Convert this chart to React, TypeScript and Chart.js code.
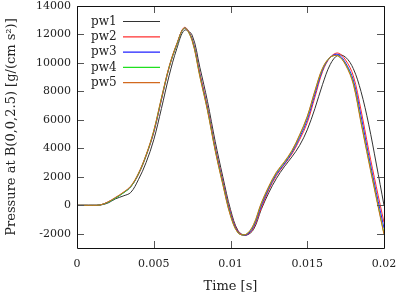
import React, { useEffect, useRef } from "react";
import { Chart, registerables } from "chart.js";

Chart.register(...registerables);

const times: number[] = [
  0, 0.0005, 0.001, 0.0015, 0.002, 0.0025, 0.003, 0.0035, 0.004, 0.0045,
  0.005, 0.0055, 0.006, 0.0065, 0.007, 0.0075, 0.008, 0.0085, 0.009, 0.0095,
  0.01, 0.0105, 0.011, 0.0115, 0.012, 0.0125, 0.013, 0.0135, 0.014, 0.0145,
  0.015, 0.0155, 0.016, 0.0165, 0.017, 0.0175, 0.018, 0.0185, 0.019, 0.0195, 0.02,
];

const pw1: number[] = [
  0, 0, 0, 20, 150, 450, 650, 900, 1800, 3000,
  4600, 6800, 9100, 11000, 12300, 11950, 9700, 7300, 4500, 2000,
  -300, -1800, -2100, -1700, -300, 900, 1900, 2700, 3400, 4200,
  5300, 6800, 8500, 9900, 10550, 10400, 9600, 8000, 5700, 2900, 0,
];
const pw2: number[] = [
  0, 0, 0, 20, 220, 520, 880, 1300, 2150, 3450,
  5100, 7400, 9650, 11300, 12500, 11700, 9300, 6900, 4100, 1700,
  -500, -1850, -2100, -1600, -200, 1100, 2100, 2850, 3600, 4600,
  5800, 7600, 9400, 10400, 10700, 10200, 9100, 6700, 3900, 1300, -1200,
];
const pw3: number[] = [
  0, 0, 0, 20, 210, 510, 860, 1300, 2200, 3500,
  5150, 7450, 9700, 11300, 12450, 11650, 9200, 6800, 4000, 1600,
  -600, -1900, -2100, -1500, -50, 1200, 2200, 2900, 3700, 4750,
  6000, 7800, 9500, 10400, 10600, 10000, 8800, 6300, 3500, 900, -1600,
];
const pw4: number[] = [
  0, 0, 0, 20, 200, 500, 850, 1300, 2200, 3500,
  5200, 7500, 9700, 11300, 12450, 11600, 9100, 6700, 3900, 1500,
  -700, -1950, -2050, -1400, 100, 1300, 2300, 3000, 3800, 4900,
  6200, 8000, 9600, 10400, 10500, 9900, 8600, 5900, 3200, 600, -2000,
];
const pw5: number[] = [
  0, 0, 0, 20, 230, 550, 900, 1350, 2250, 3550,
  5250, 7550, 9750, 11350, 12450, 11550, 9050, 6650, 3850, 1450,
  -750, -1950, -2050, -1350, 150, 1350, 2350, 3050, 3850, 4950,
  6250, 8050, 9650, 10400, 10500, 9850, 8500, 5800, 3100, 500, -2050,
];

const seriesNames: string[] = ["pw1", "pw2", "pw3", "pw4", "pw5"];
const seriesColors: string[] = ["#333333", "#ff3030", "#2020ff", "#20e020", "#d2691e"];
const xTicks: number[] = [0, 0.005, 0.01, 0.015, 0.02];
const xTickLabels: string[] = ["0", "0.005", "0.01", "0.015", "0.02"];
const yTicks: number[] = [-2000, 0, 2000, 4000, 6000, 8000, 10000, 12000, 14000];

const FONT = "'DejaVu Serif', serif";

const framePlugin = {
  id: "frame",
  afterDatasetsDraw(chart: any) {
    const { ctx, chartArea } = chart;
    const { left, right, top, bottom } = chartArea;
    const xs = chart.scales.x;
    const ys = chart.scales.y;
    ctx.save();
    ctx.fillStyle = "#555555";
    const tl = 7;
    xTicks.forEach((t) => {
      const px = Math.round(xs.getPixelForValue(t));
      ctx.fillRect(px, bottom - tl, 1, tl);
      ctx.fillRect(px, top, 1, tl);
    });
    yTicks.forEach((v) => {
      const py = Math.round(ys.getPixelForValue(v));
      ctx.fillRect(left, py, tl, 1);
      ctx.fillRect(right - tl, py, tl, 1);
    });
    ctx.strokeStyle = "#111111";
    ctx.lineWidth = 1;
    ctx.beginPath();
    ctx.rect(Math.round(left) + 0.5, Math.round(top) + 0.5, Math.round(right - left), Math.round(bottom - top));
    ctx.stroke();
    // legend
    ctx.font = "12px " + FONT;
    ctx.textBaseline = "middle";
    ctx.textAlign = "left";
    for (let i = 0; i < seriesNames.length; i++) {
      const y = 21.5 + 15.3 * i;
      ctx.fillStyle = "#222222";
      ctx.fillText(seriesNames[i], left + 14, y);
      ctx.beginPath();
      ctx.strokeStyle = seriesColors[i];
      ctx.lineWidth = 1.2;
      ctx.moveTo(left + 46, y);
      ctx.lineTo(left + 83, y);
      ctx.stroke();
    }
    ctx.restore();
  },
};

export default function App() {
  const ref = useRef<HTMLCanvasElement | null>(null);
  useEffect(() => {
    document.body.style.margin = "0";
    const canvas = ref.current;
    if (!canvas) return;
    const all = [pw1, pw2, pw3, pw4, pw5];
    const chart = new Chart(canvas, {
      type: "line",
      data: {
        datasets: all.map((vals, i) => ({
          label: seriesNames[i],
          data: times.map((t, j) => ({ x: t, y: vals[j] })),
          borderColor: seriesColors[i],
          backgroundColor: seriesColors[i],
          borderWidth: 1,
          pointRadius: 0,
          tension: 0.35,
          fill: false,
          order: 4 - i,
        })),
      },
      options: {
        animation: false,
        responsive: false,
        devicePixelRatio: 1,
        layout: { padding: { top: 6, right: 15, left: 0, bottom: 0 } },
        plugins: { legend: { display: false }, tooltip: { enabled: false } },
        scales: {
          x: {
            type: "linear",
            min: 0,
            max: 0.02,
            grid: { display: false, drawTicks: false },
            border: { display: false },
            afterBuildTicks: (s: any) => {
              s.ticks = xTicks.map((v) => ({ value: v }));
            },
            afterFit: (s: any) => {
              s.height = 49;
              s.paddingLeft = 0;
              s.paddingRight = 0;
              s.paddingTop = 0;
              s.paddingBottom = 0;
            },
            ticks: {
              padding: 10,
              color: "#222222",
              font: { family: FONT, size: 11 },
              maxRotation: 0,
              callback: (v: any, i: number) => xTickLabels[i] ?? String(v),
            },
            title: {
              display: true,
              text: "Time [s]",
              color: "#222222",
              font: { family: FONT, size: 13 },
              padding: { top: 0, bottom: 3 },
            },
          },
          y: {
            type: "linear",
            min: -3000,
            max: 14000,
            grid: { display: false, drawTicks: false },
            border: { display: false },
            afterBuildTicks: (s: any) => {
              s.ticks = yTicks.map((v) => ({ value: v }));
            },
            afterFit: (s: any) => {
              s.width = 77;
              s.paddingLeft = 0;
              s.paddingRight = 0;
              s.paddingTop = 0;
              s.paddingBottom = 0;
            },
            ticks: {
              padding: 6,
              color: "#222222",
              font: { family: FONT, size: 11 },
              callback: (v: any) => String(v),
            },
            title: {
              display: true,
              text: "Pressure at B(0,0,2.5) [g/(cm s²)]",
              color: "#222222",
              font: { family: FONT, size: 13 },
              padding: { top: 4, bottom: 0 },
            },
          },
        },
      },
      plugins: [framePlugin],
    });
    return () => chart.destroy();
  }, []);
  return <canvas ref={ref} width={399} height={297} style={{ display: "block" }} />;
}
